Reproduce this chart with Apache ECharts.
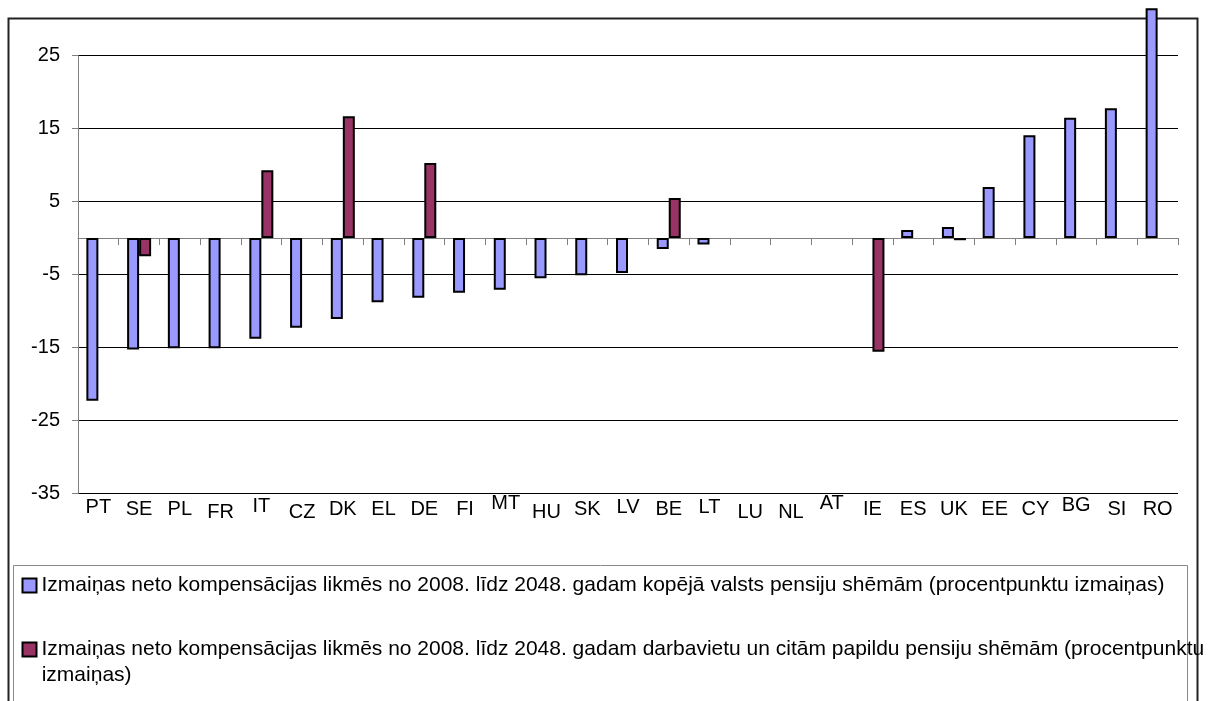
<!DOCTYPE html>
<html>
<head>
<meta charset="utf-8">
<script src="https://cdn.jsdelivr.net/npm/echarts@6/dist/echarts.min.js"></script>
<style>
  html, body { margin: 0; padding: 0; background: #fff; }
  #chart { width: 1213px; height: 701px; }
</style>
</head>
<body>
<div id="chart"></div>
<script>
// data
const countries = ['PT', 'SE', 'PL', 'FR', 'IT', 'CZ', 'DK', 'EL', 'DE', 'FI', 'MT', 'HU', 'SK', 'LV',
  'BE', 'LT', 'LU', 'NL', 'AT', 'IE', 'ES', 'UK', 'EE', 'CY', 'BG', 'SI', 'RO'];
const publicSchemes = [-22.3, -15.3, -15.1, -15.1, -13.8, -12.3, -11.1, -8.8, -8.2, -7.5, -7.1, -5.5, -5.1, -4.8,
  -1.5, -0.9, null, null, null, null, 1.1, 1.5, 7.0, 14.1, 16.5, 17.8, 31.5];
const occupationalSchemes = [null, -2.5, null, null, 9.3, null, 16.7, null, 10.3, null, null, null, null, null,
  5.5, null, null, null, null, -15.6, null, -0.3, null, null, null, null, null];
const seriesNames = [
  'Izmaiņas neto kompensācijas likmēs no 2008. līdz 2048. gadam kopējā valsts pensiju shēmām (procentpunktu izmaiņas)',
  'Izmaiņas neto kompensācijas likmēs no 2008. līdz 2048. gadam darbavietu un citām papildu pensiju shēmām (procentpunktu izmaiņas)'
];

const FONT = '"Liberation Sans", Arial, sans-serif';

// the category labels in the original sit at slightly uneven heights
const labelDrop = { MT: 0, AT: 0, BG: 2, IT: 3, PT: 4, LT: 4, LV: 4, FR: 9, CZ: 9, LU: 9, NL: 9, HU: 9 };
const rich = {};
[0, 2, 3, 4, 6, 9].forEach(d => {
  rich['d' + d] = { fontSize: 20, fontFamily: FONT, color: '#000', padding: [d, 0, 0, 0] };
});

const chart = echarts.init(document.getElementById('chart'));
chart.setOption({
  animation: false,
  grid: { left: 78, right: 35, top: 55.7, bottom: 207.7 },
  xAxis: [
    {
      type: 'category',
      data: countries,
      axisLine: { onZero: true, lineStyle: { color: '#808080', width: 1 } },
      axisTick: { show: true, length: 7, lineStyle: { color: '#808080' } },
      axisLabel: { show: false }
    },
    {
      type: 'category',
      data: countries,
      position: 'bottom',
      axisLine: { show: false, onZero: false },
      axisTick: { show: false },
      axisLabel: {
        margin: 0,
        interval: 0,
        rich: rich,
        formatter: v => {
          const d = labelDrop[v] !== undefined ? labelDrop[v] : 6;
          return '{d' + d + '|' + v + '}';
        }
      }
    }
  ],
  yAxis: {
    type: 'value',
    min: -35,
    max: 25,
    interval: 10,
    axisLine: { show: true, lineStyle: { color: '#808080' } },
    axisTick: { show: true, length: 6, lineStyle: { color: '#808080' } },
    axisLabel: { color: '#000', fontSize: 20, fontFamily: FONT, margin: 18 },
    splitLine: { show: true, lineStyle: { color: '#000', width: 1 } }
  },
  legend: {
    orient: 'vertical',
    left: 21.5,
    top: 575,
    padding: 0,
    itemWidth: 14,
    itemHeight: 14,
    itemGap: 43,
    icon: 'rect',
    textStyle: { color: '#000', fontSize: 21, fontFamily: FONT },
    formatter: name => name === seriesNames[1] ? name.replace(' izmaiņas)', '') : name
  },
  graphic: [
    {
      type: 'rect', z: 0,
      shape: { x: 8.5, y: 18.5, width: 1189, height: 720 },
      style: { fill: null, stroke: '#222', lineWidth: 2 }
    },
    {
      type: 'rect', z: 0,
      shape: { x: 13.5, y: 565.5, width: 1174, height: 200 },
      style: { fill: null, stroke: '#888', lineWidth: 1 }
    },
    {
      type: 'text', z: 5,
      style: { text: 'izmaiņas)', x: 41.7, y: 675, verticalAlign: 'middle',
        fontSize: 21, fontFamily: FONT, fill: '#000' }
    },
    {
      type: 'rect', z: 20,
      shape: { x: 1205, y: 540, width: 20, height: 170 },
      style: { fill: '#fff' }
    }
  ],
  series: [
    {
      name: seriesNames[0],
      type: 'bar',
      xAxisIndex: 0,
      data: publicSchemes,
      barWidth: 12,
      barGap: '0%',
      clip: false,
      itemStyle: { color: '#9999ff', borderColor: '#000', borderWidth: 2 },
      emphasis: { disabled: true }
    },
    {
      name: seriesNames[1],
      type: 'bar',
      xAxisIndex: 0,
      data: occupationalSchemes,
      barWidth: 12,
      barGap: '0%',
      clip: false,
      itemStyle: { color: '#993366', borderColor: '#000', borderWidth: 2 },
      emphasis: { disabled: true }
    }
  ]
});
</script>
</body>
</html>
